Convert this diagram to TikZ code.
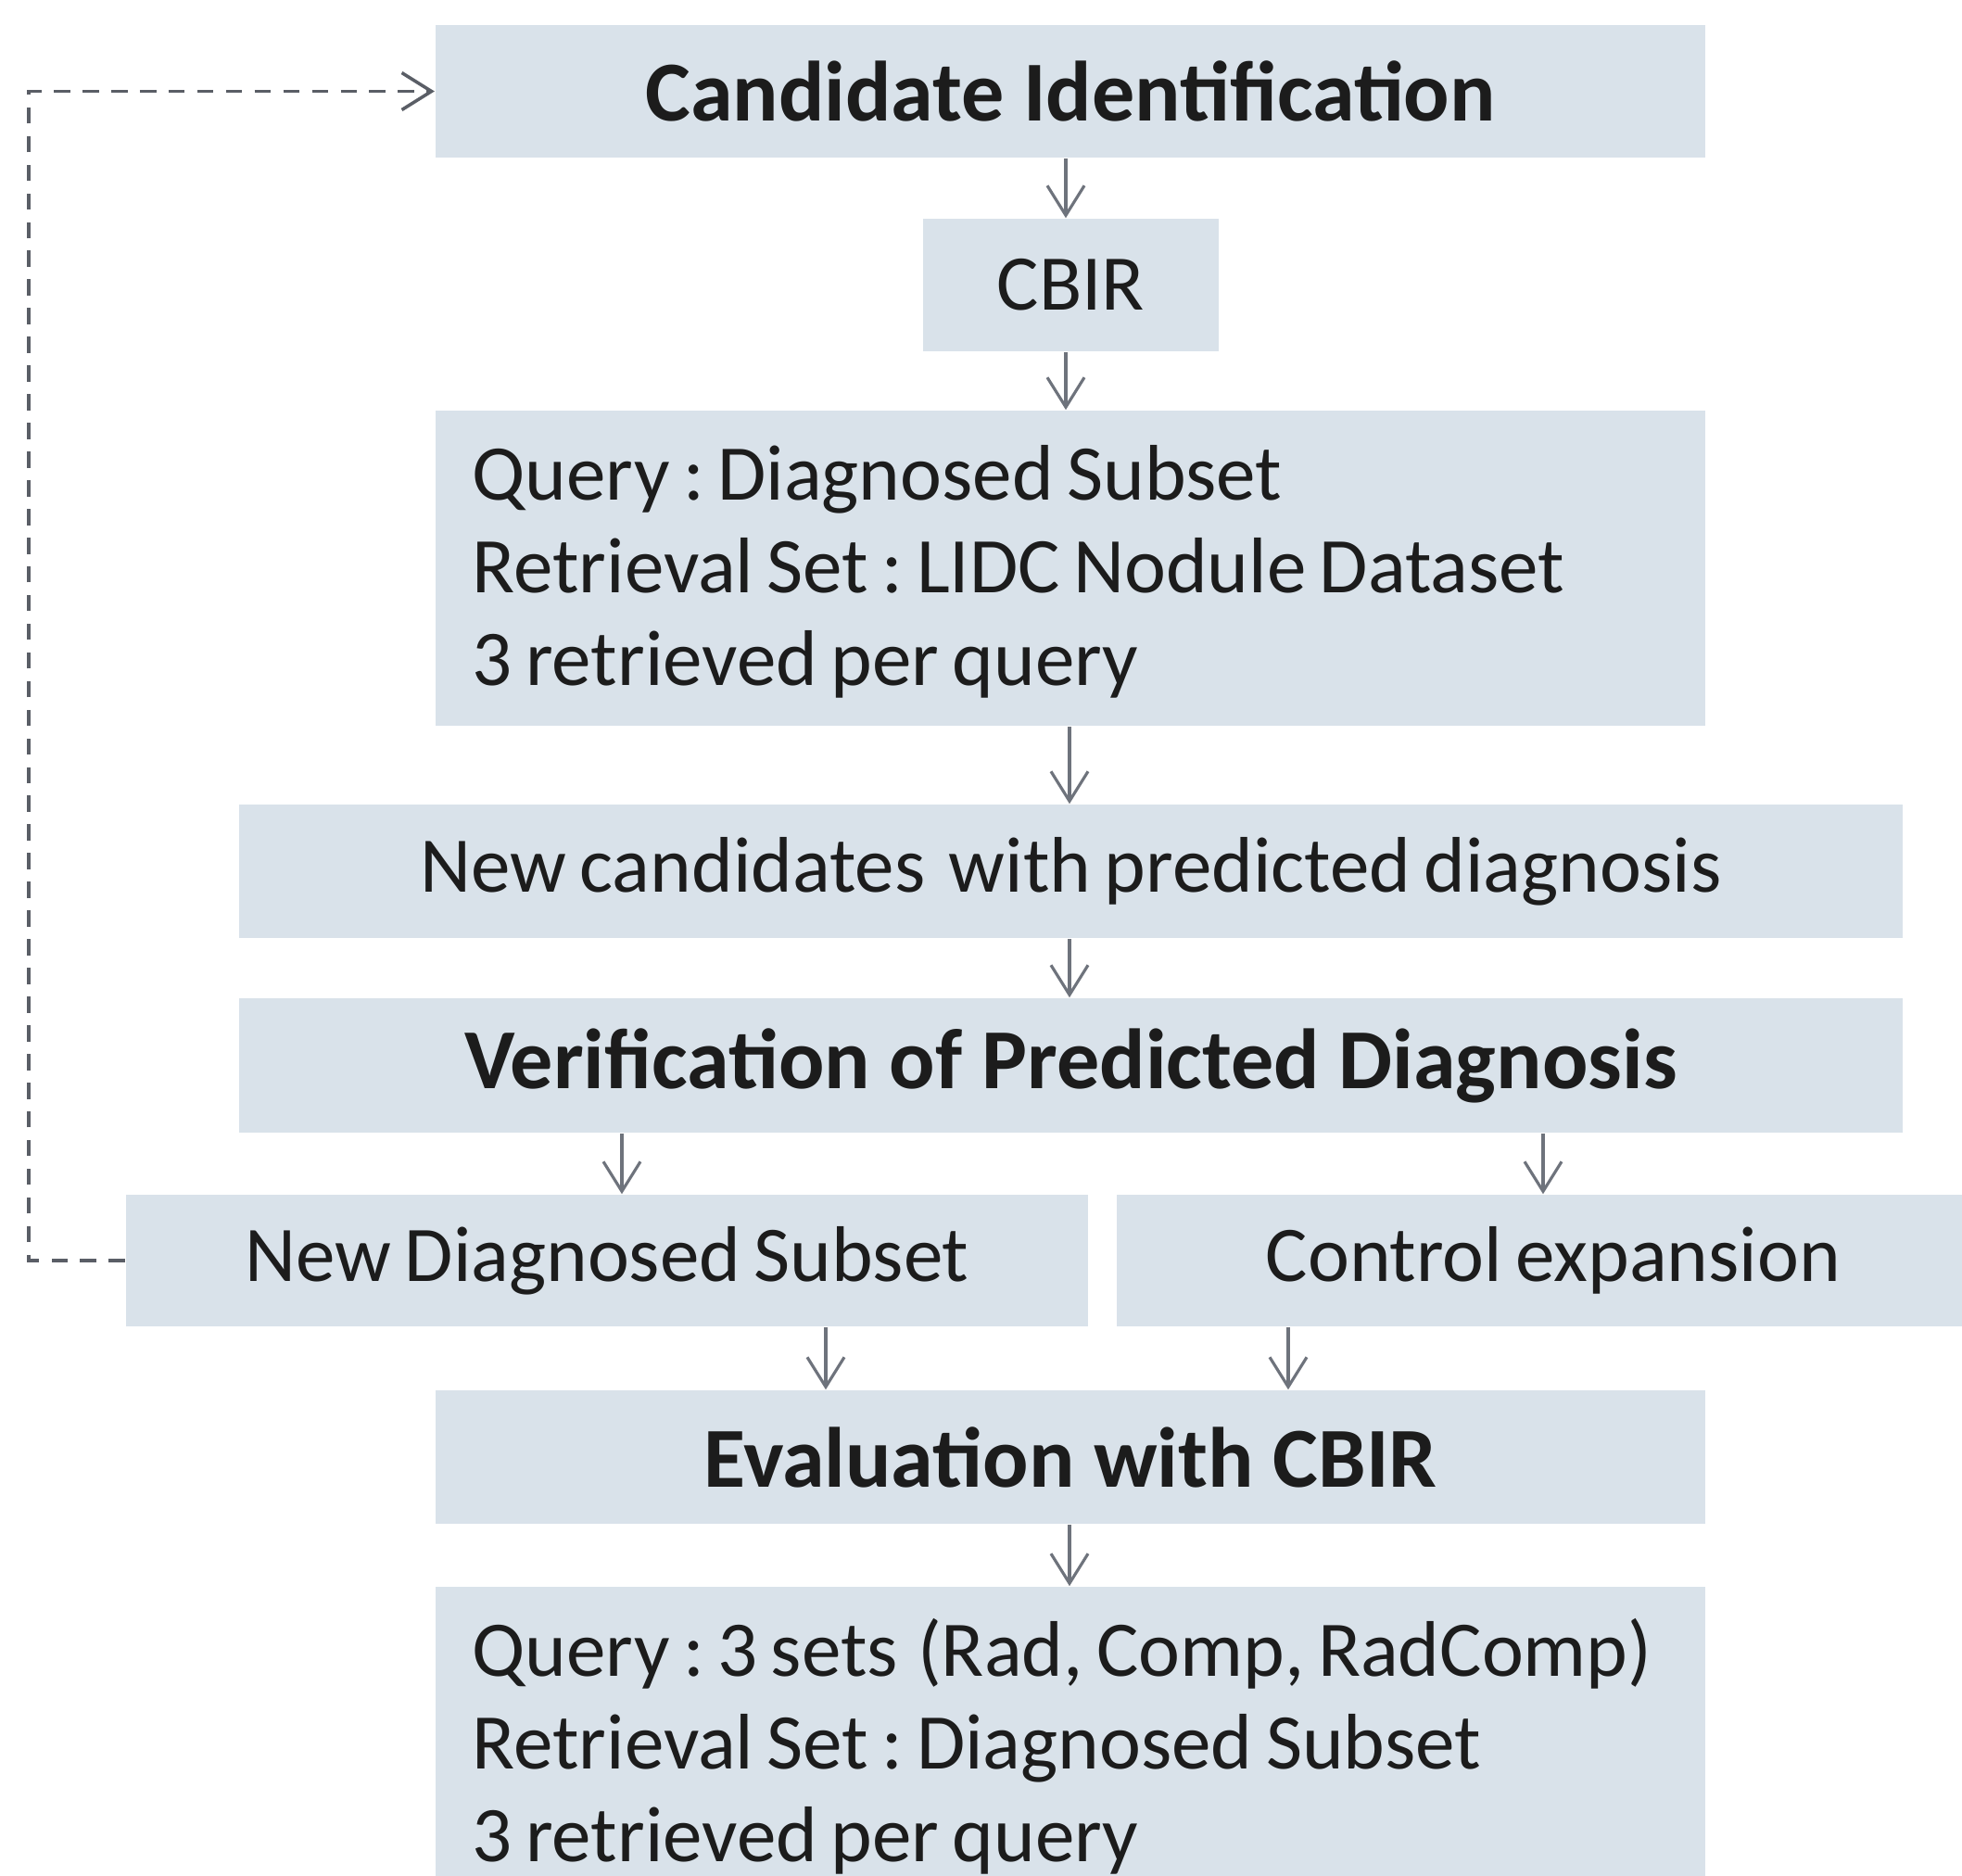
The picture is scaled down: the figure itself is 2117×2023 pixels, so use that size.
\documentclass[tikz,border=0pt]{standalone}
\usepackage{fontspec}
\usepackage{array}
\setmainfont{Carlito}
\usetikzlibrary{arrows.meta}
\definecolor{boxfill}{HTML}{D9E2EA}
\definecolor{arrowgray}{HTML}{6E737C}
\definecolor{dashgray}{HTML}{5A5E66}
\definecolor{inkcol}{HTML}{1C1C1C}
\newcommand{\tightwords}{\spaceskip=0.17em\relax\xspaceskip=0.17em\relax}
% left-aligned lines; the strut in the first row lowers the block slightly
\newcommand{\linesleft}[1]{\begin{tabular}{@{}>{\tightwords}l@{}}\rule{0pt}{0.83cm}#1\end{tabular}}
\tikzset{
  stage/.style={fill=boxfill, draw=none, inner sep=0pt, text=inkcol,
    font=\fontsize{24.2}{28.45}\selectfont\tightwords, anchor=center},
  title/.style={stage, font=\fontsize{26.2}{30}\selectfont\bfseries},
  listbox/.style={stage, text width=12.9cm, align=left, inner xsep=0.4cm},
  arr/.style={draw=arrowgray, line width=0.9pt,
    -{Straight Barb[length=0.32cm, width=0.4cm, line width=0.9pt]}},
  feedback/.style={draw=dashgray, line width=1pt, dash pattern=on 5pt off 3.8pt,
    -{Straight Barb[length=0.32cm, width=0.4cm, line width=1pt]}}
}
\begin{document}
\begin{tikzpicture}[x=0.01cm, y=-0.01cm]
\useasboundingbox (0,0) rectangle (2117,2023);
\clip (0,0) rectangle (2117,2023);

% pipeline stages
\node[title, minimum width=13.7cm, minimum height=1.43cm] (cand) at (1155,98.5) {Candidate Identification};
\node[stage, minimum width=3.19cm, minimum height=1.43cm] (cbir) at (1155.5,307.5) {CBIR};
\node[listbox, minimum height=3.4cm] (q1) at (1155,613)
  {\linesleft{Query : Diagnosed Subset\\Retrieval Set : LIDC Nodule Dataset\\3 retrieved per query}};
\node[stage, minimum width=17.93cm, minimum height=1.44cm] (newc) at (1155.5,940) {New candidates\hspace{0.3em}with predicted diagnosis};
\node[title, minimum width=17.93cm, minimum height=1.45cm] (verif) at (1155.5,1149.5) {Verification of Predicted Diagnosis};
\node[stage, minimum width=10.38cm, minimum height=1.42cm] (nds) at (655,1360) {New Diagnosed Subset};
\node[stage, minimum width=9.42cm, minimum height=1.42cm] (ctrl) at (1676,1360) {Control expansion};
\node[title, minimum width=13.7cm, minimum height=1.44cm] (eval) at (1155,1572) {Evaluation with CBIR};
\node[listbox, minimum height=3.4cm] (q2) at (1155,1882)
  {\linesleft{Query : 3 sets\hspace{0.25em}(Rad, Comp, RadComp)\\Retrieval Set : Diagnosed Subset\\3 retrieved per query}};

% flow arrows
\draw[arr] (cand.south -| 1150,0) -- (cbir.north -| 1150,0);
\draw[arr] (cbir.south -| 1150,0) -- (q1.north -| 1150,0);
\draw[arr] (q1.south -| 1154,0) -- (newc.north -| 1154,0);
\draw[arr] (newc.south -| 1154,0) -- (verif.north -| 1154,0);
\draw[arr] (verif.south -| 671,0) -- (nds.north -| 671,0);
\draw[arr] (verif.south -| 1665,0) -- (ctrl.north -| 1665,0);
\draw[arr] (nds.south -| 891,0) -- (eval.north -| 891,0);
\draw[arr] (ctrl.south -| 1390,0) -- (eval.north -| 1390,0);
\draw[arr] (eval.south -| 1154,0) -- (q2.north -| 1154,0);

% feedback loop
\draw[feedback] (nds.west) -- ++(-104,0) |- (cand.west);
\end{tikzpicture}
\end{document}
